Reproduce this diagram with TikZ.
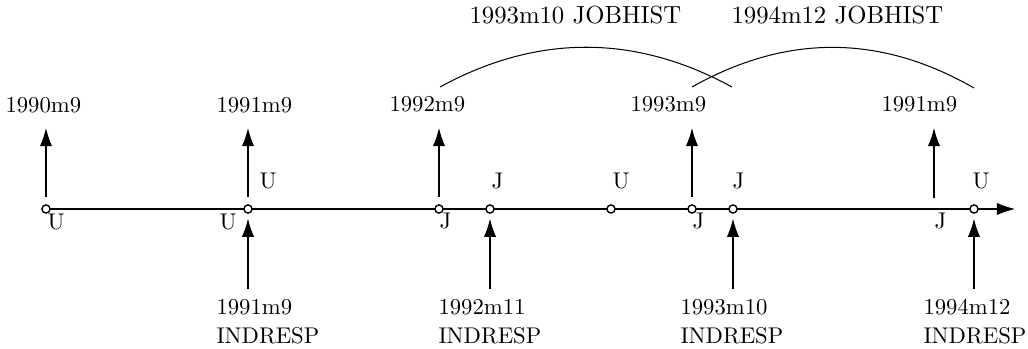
\documentclass[tikz,border=0pt]{standalone}
\usetikzlibrary{arrows.meta}
\usetikzlibrary{positioning}

\tikzset{
  dot/.style={circle, draw, line width=0.6pt, fill=white, inner sep=0pt, minimum size=3.6pt},
  tag/.style={inner sep=0pt, anchor=base west},
  datelbl/.style={inner sep=0pt, anchor=base west},
  resplbl/.style={inner sep=0pt, anchor=north west, align=left,
    font=\fontsize{10}{12.8}\selectfont},
  histlbl/.style={inner sep=0pt, anchor=base west, font=\fontsize{10.9}{13}\selectfont},
  tip/.style={-{Latex[length=8pt,width=5.4pt]}},
}

\begin{document}
\begin{tikzpicture}[x=0.4405pt, y=-0.4405pt, line width=0.45pt]
  \useasboundingbox (0,0) rectangle (1028,349);

  % time axis
  \coordinate (axs) at (46,209);
  \coordinate (axe) at (1015,209);
  \draw [tip] (axs) -- (axe);

  % dates on the axis
  \node [dot] (d90)  at (46,209)  {};
  \node [dot] (d91)  at (248,209) {};
  \node [dot] (d92)  at (439,209) {};
  \node [dot] (d92b) at (490,209) {};
  \node [dot] (d93a) at (611,209) {};
  \node [dot] (d93)  at (692,209) {};
  \node [dot] (d93b) at (733,209) {};
  \node [dot] (d94)  at (974,209) {};
  \coordinate (x91) at (934,205);

  % states
  \node [tag] (s1)  at (47,230)  {U};
  \node [tag] (s2)  at (219,230) {U};
  \node [tag] (s3)  at (259,189) {U};
  \node [tag] (s4)  at (439,229) {J};
  \node [tag] (s5)  at (491,189) {J};
  \node [tag] (s6)  at (612,189) {U};
  \node [tag] (s7)  at (692,229) {J};
  \node [tag] (s8)  at (732,189) {J};
  \node [tag] (s9)  at (934,229) {J};
  \node [tag] (s10) at (972,189) {U};

  % dates above
  \node [datelbl] (l90)  at (5,113)   {1990m9};
  \node [datelbl] (l91)  at (216,113) {1991m9};
  \node [datelbl] (l92)  at (389,112) {1992m9};
  \node [datelbl] (l93)  at (630,112) {1993m9};
  \node [datelbl] (l91b) at (881,112) {1991m9};

  \draw [tip, shorten <=3.1pt, shorten >=6.2pt] (d90) -- (d90 |- l90.south);
  \draw [tip, shorten <=3.1pt, shorten >=6.2pt] (d91) -- (d91 |- l91.south);
  \draw [tip, shorten <=3.1pt, shorten >=6.6pt] (d92) -- (d92 |- l92.south);
  \draw [tip, shorten <=3.1pt, shorten >=6.6pt] (d93) -- (d93 |- l93.south);
  \draw [tip, shorten <=3.1pt, shorten >=6.6pt] (x91) -- (x91 |- l91b.south);

  % interviews below
  \node [resplbl] (r91) at (216,299) {1991m9\\INDRESP};
  \node [resplbl] (r92) at (438,299) {1992m11\\INDRESP};
  \node [resplbl] (r93) at (680,299) {1993m10\\INDRESP};
  \node [resplbl] (r94) at (923,299) {1994m12\\INDRESP};

  \draw [tip, shorten <=4.4pt, shorten >=2.2pt] (d91 |- r91.north) -- (d91);
  \draw [tip, shorten <=4.4pt, shorten >=2.2pt] (d92b |- r92.north) -- (d92b);
  \draw [tip, shorten <=4.4pt, shorten >=2.2pt] (d93b |- r93.north) -- (d93b);
  \draw [tip, shorten <=4.4pt, shorten >=2.2pt] (d94 |- r94.north) -- (d94);

  % job history spans
  \node [histlbl] (h93) at (469,24) {1993m10 JOBHIST};
  \node [histlbl] (h94) at (731,24) {1994m12 JOBHIST};

  \coordinate (j1s) at (440,87);
  \coordinate (j1e) at (732,87);
  \coordinate (j2s) at (692,87);
  \coordinate (j2e) at (974,88);
  \draw (j1s) .. controls (537,34) and (635,34) .. (j1e);
  \draw (j2s) .. controls (786,34) and (880,34) .. (j2e);
\end{tikzpicture}
\end{document}
